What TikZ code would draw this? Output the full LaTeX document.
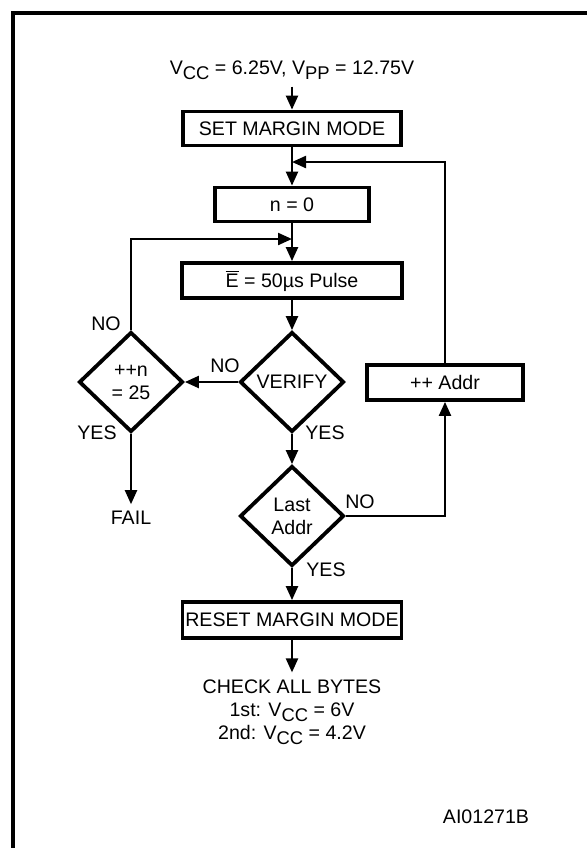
\documentclass[tikz,border=0pt]{standalone}
\usepackage{fontspec}
\setmainfont{Liberation Sans}
\usetikzlibrary{arrows.meta,shapes.geometric}
\newcommand{\subs}[1]{\raisebox{-0.5ex}{\fontsize{9.2}{10}\selectfont #1}}

\begin{document}
\begin{tikzpicture}[x=0.5pt,y=-0.5pt,>={Triangle[length=7pt,width=6pt]},
  font=\fontsize{9.8}{11.5}\selectfont,
  box/.style={draw,line width=1.9pt,minimum height=17pt,inner sep=0pt},
  test/.style={draw,diamond,line width=1.9pt,inner sep=0pt,minimum width=52pt,minimum height=50pt,align=center},
  flow/.style={line width=1.1pt}]
  \useasboundingbox (0,0) rectangle (587,848);
  \clip (0,0) rectangle (587,848);
  \draw[line width=2pt] (13,900) |- (640,13);

  \node (vin) at (292,70) {V\subs{CC} = 6.25V, V\subs{PP} = 12.75V};
  \node[box,minimum width=109pt] (set) at (292,128.5) {SET MARGIN MODE};
  \node[box,minimum width=77pt] (zero) at (292,204.5) {n = 0};
  \node[box,minimum width=110pt,minimum height=17.5pt] (pulse) at (292,280.5) {$\overline{\mbox{E}}$ = 50µs Pulse};
  \node[test] (verify) at (292,382) {VERIFY};
  \node[test] (incn) at (131,382) {++n\\= 25};
  \node[test] (last) at (292,516) {Last\\Addr};
  \node[box,minimum width=78pt,minimum height=17.5pt] (addr) at (445,382.5) {++ Addr};
  \node[box,minimum width=109.5pt,minimum height=18pt] (reset) at (292,620) {RESET MARGIN MODE};
  \node (fail) at (131,518) {FAIL};
  \node[align=center] (check) at (292,712) {CHECK ALL BYTES\\1st: V\subs{CC} = 6V\\2nd: V\subs{CC} = 4.2V};
  \node (ref) at (486,817) {AI01271B};

  % branch labels
  \node (noV) at (225,366) {NO};
  \node (noN) at (106,324) {NO};
  \node (yesN) at (97,433) {YES};
  \node (yesV) at (325,433) {YES};
  \node (noL) at (360,502) {NO};
  \node (yesL) at (326,570) {YES};

  \coordinate (j1) at (292,162);
  \coordinate (j2) at (292,239);

  \draw[flow,->] (vin) -- (set);
  \draw[flow] (set) -- (j1);
  \draw[flow,->] (j1) -- (zero);
  \draw[flow,->] (addr) |- (j1);
  \draw[flow] (zero) -- (j2);
  \draw[flow,->] (j2) -- (pulse);
  \draw[flow,->] (incn.north) |- (j2);
  \draw[flow,->] (pulse) -- (verify);
  \draw[flow,->] (verify) -- (incn);
  \draw[flow,->] (verify) -- (last);
  \draw[flow,->] (last.east) -| (addr);
  \draw[flow,->] (last) -- (reset);
  \draw[flow,->] (reset) -- (check);
  \draw[flow,->] (incn) -- (fail);
\end{tikzpicture}
\end{document}
